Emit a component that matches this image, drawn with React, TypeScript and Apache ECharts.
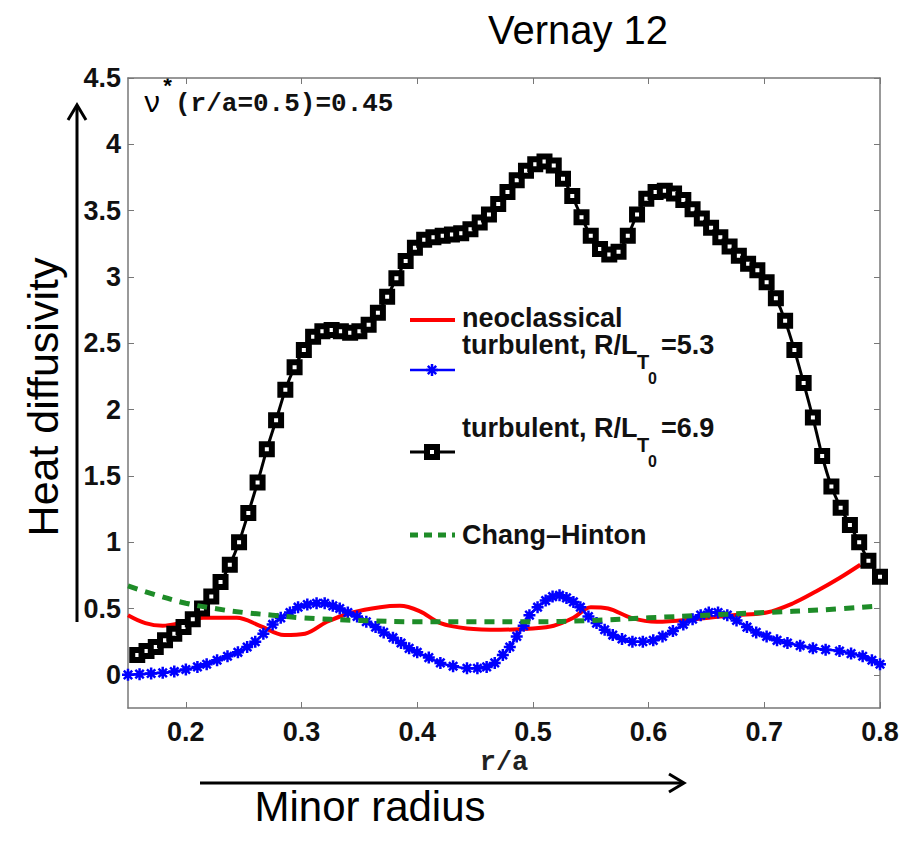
import React, { useEffect, useRef } from "react";
import * as echarts from "echarts";

// ---------- data ----------
const xTicks = [0.2, 0.3, 0.4, 0.5, 0.6, 0.7, 0.8];
const yTicks = [0, 0.5, 1, 1.5, 2, 2.5, 3, 3.5, 4, 4.5];

// neoclassical (red)
const neoX = [0.150, 0.165, 0.180, 0.195, 0.215, 0.244, 0.264, 0.285, 0.303, 0.322, 0.344, 0.368, 0.385, 0.402, 0.420, 0.443, 0.472, 0.500, 0.518, 0.535, 0.550, 0.565, 0.585, 0.607, 0.640, 0.673, 0.702, 0.725, 0.745, 0.765, 0.783];
const neoY = [0.45, 0.39, 0.37, 0.39, 0.43, 0.43, 0.37, 0.30, 0.31, 0.40, 0.47, 0.51, 0.52, 0.48, 0.39, 0.35, 0.34, 0.35, 0.37, 0.43, 0.51, 0.50, 0.43, 0.40, 0.42, 0.45, 0.47, 0.54, 0.63, 0.73, 0.83];

// turbulent, R/LT0 = 5.3 (blue, stars)
const t53X = [0.150, 0.160, 0.170, 0.180, 0.190, 0.200, 0.210, 0.218, 0.227, 0.236, 0.245, 0.253, 0.260, 0.267, 0.275, 0.282, 0.290, 0.297, 0.305, 0.313, 0.320, 0.327, 0.333, 0.340, 0.348, 0.356, 0.364, 0.371, 0.379, 0.386, 0.393, 0.400, 0.410, 0.420, 0.431, 0.443, 0.452, 0.460, 0.467, 0.474, 0.480, 0.486, 0.492, 0.497, 0.504, 0.511, 0.517, 0.523, 0.529, 0.535, 0.541, 0.548, 0.555, 0.562, 0.569, 0.577, 0.586, 0.595, 0.604, 0.612, 0.621, 0.630, 0.638, 0.645, 0.652, 0.660, 0.668, 0.676, 0.685, 0.693, 0.702, 0.711, 0.720, 0.731, 0.742, 0.753, 0.765, 0.775, 0.785, 0.793, 0.800];
const t53Y = [0.00, 0.005, 0.01, 0.015, 0.025, 0.04, 0.06, 0.08, 0.11, 0.14, 0.17, 0.21, 0.25, 0.31, 0.38, 0.43, 0.47, 0.51, 0.53, 0.54, 0.54, 0.52, 0.50, 0.47, 0.44, 0.40, 0.36, 0.32, 0.28, 0.24, 0.20, 0.17, 0.13, 0.09, 0.065, 0.05, 0.05, 0.06, 0.09, 0.15, 0.21, 0.29, 0.37, 0.45, 0.51, 0.56, 0.59, 0.60, 0.58, 0.55, 0.51, 0.44, 0.39, 0.34, 0.30, 0.27, 0.25, 0.25, 0.26, 0.29, 0.33, 0.38, 0.42, 0.45, 0.47, 0.47, 0.45, 0.41, 0.36, 0.32, 0.29, 0.26, 0.24, 0.22, 0.20, 0.19, 0.18, 0.16, 0.14, 0.11, 0.08];

// turbulent, R/LT0 = 6.9 (black, squares)
const t69X = [0.158, 0.166, 0.174, 0.182, 0.190, 0.198, 0.206, 0.214, 0.222, 0.230, 0.238, 0.246, 0.254, 0.262, 0.270, 0.278, 0.286, 0.294, 0.302, 0.310, 0.318, 0.326, 0.334, 0.342, 0.350, 0.358, 0.366, 0.374, 0.382, 0.390, 0.398, 0.406, 0.414, 0.422, 0.430, 0.438, 0.446, 0.454, 0.462, 0.470, 0.478, 0.486, 0.494, 0.502, 0.510, 0.518, 0.526, 0.534, 0.542, 0.550, 0.558, 0.566, 0.574, 0.582, 0.590, 0.598, 0.606, 0.614, 0.622, 0.630, 0.638, 0.646, 0.654, 0.662, 0.670, 0.678, 0.686, 0.694, 0.702, 0.710, 0.718, 0.726, 0.734, 0.742, 0.750, 0.758, 0.766, 0.774, 0.782, 0.790, 0.800];
const t69Y = [0.15, 0.18, 0.21, 0.26, 0.31, 0.36, 0.42, 0.50, 0.59, 0.70, 0.83, 1.00, 1.22, 1.45, 1.70, 1.92, 2.15, 2.32, 2.45, 2.55, 2.59, 2.60, 2.59, 2.58, 2.59, 2.64, 2.73, 2.85, 2.99, 3.12, 3.22, 3.28, 3.30, 3.31, 3.32, 3.33, 3.36, 3.41, 3.47, 3.55, 3.64, 3.73, 3.80, 3.85, 3.87, 3.84, 3.74, 3.61, 3.45, 3.31, 3.21, 3.17, 3.19, 3.31, 3.47, 3.59, 3.64, 3.65, 3.63, 3.58, 3.51, 3.44, 3.37, 3.30, 3.23, 3.16, 3.10, 3.05, 2.96, 2.84, 2.67, 2.45, 2.20, 1.94, 1.65, 1.42, 1.26, 1.13, 1.00, 0.86, 0.74];

// Chang-Hinton (green dashed)
const chX = [0.150, 0.175, 0.200, 0.225, 0.250, 0.275, 0.300, 0.350, 0.400, 0.450, 0.500, 0.550, 0.600, 0.650, 0.700, 0.750, 0.800];
const chY = [0.67, 0.60, 0.54, 0.50, 0.47, 0.45, 0.43, 0.41, 0.40, 0.40, 0.40, 0.41, 0.43, 0.45, 0.47, 0.49, 0.52];

const zip = (xs: number[], ys: number[]) => xs.map((x, i) => [x, ys[i]]);

const AXIS_COLOR = "#777";
const SANS = "Liberation Sans, Arial, Helvetica, sans-serif";
const MONO = "Liberation Mono, Courier New, monospace";
const RED = "#ff0000";
const BLUE = "#0000ff";
const GREEN = "#1e8c28";
const STAR = "path://M5,0L5,10M0,5L10,5M1.5,1.5L8.5,8.5M8.5,1.5L1.5,8.5";

function starLines(cx: number, cy: number, r: number, color: string) {
  const d = r * 0.7;
  return [
    [cx, cy - r, cx, cy + r],
    [cx - r, cy, cx + r, cy],
    [cx - d, cy - d, cx + d, cy + d],
    [cx + d, cy - d, cx - d, cy + d],
  ].map((s) => ({
    type: "line",
    shape: { x1: s[0], y1: s[1], x2: s[2], y2: s[3] },
    style: { stroke: color, lineWidth: 2.5 },
    z: 100,
  }));
}

export default function App() {
  const ref = useRef<HTMLDivElement>(null);
  useEffect(() => {
    if (!ref.current) return;
    const chart = echarts.init(ref.current, null, { renderer: "svg" });
    const tickLabel = {
      fontFamily: SANS,
      fontWeight: "bold",
      fontSize: 27,
      color: "#111",
    };
    const legendText = (text: string, x: number, y: number, size = 27) => ({
      type: "text",
      x,
      y,
      z: 100,
      style: { text, fontFamily: SANS, fontWeight: "bold", fontSize: size, fill: "#111", align: "left", verticalAlign: "middle" },
    });
    const option: any = {
      animation: false,
      backgroundColor: "#ffffff",
      grid: { left: 128, top: 78, width: 752, height: 630, containLabel: false },
      xAxis: [
        {
          type: "value",
          min: 0.15,
          max: 0.8,
          position: "bottom",
          axisLine: { show: true, onZero: false, lineStyle: { color: AXIS_COLOR, width: 1.5 } },
          axisTick: { show: true, inside: true, length: 6, customValues: xTicks, lineStyle: { color: AXIS_COLOR } },
          axisLabel: { ...tickLabel, customValues: xTicks, margin: 10, formatter: (v: number) => v.toFixed(1) },
          splitLine: { show: false },
          name: "r/a",
          nameLocation: "middle",
          nameGap: 36,
          nameTextStyle: { fontFamily: MONO, fontWeight: "bold", fontSize: 27, color: "#222" },
        },
        {
          type: "value",
          min: 0.15,
          max: 0.8,
          position: "top",
          axisLine: { show: true, onZero: false, lineStyle: { color: AXIS_COLOR, width: 1.5 } },
          axisTick: { show: true, inside: true, length: 6, customValues: xTicks, lineStyle: { color: AXIS_COLOR } },
          axisLabel: { show: false },
          splitLine: { show: false },
        },
      ],
      yAxis: [
        {
          type: "value",
          min: -0.25,
          max: 4.5,
          position: "left",
          axisLine: { show: true, onZero: false, lineStyle: { color: AXIS_COLOR, width: 1.5 } },
          axisTick: { show: true, inside: true, length: 6, customValues: yTicks, lineStyle: { color: AXIS_COLOR } },
          axisLabel: { ...tickLabel, customValues: yTicks, margin: 7, formatter: (v: number) => String(Math.round(v * 10) / 10) },
          splitLine: { show: false },
        },
        {
          type: "value",
          min: -0.25,
          max: 4.5,
          position: "right",
          axisLine: { show: true, onZero: false, lineStyle: { color: AXIS_COLOR, width: 1.5 } },
          axisTick: { show: true, inside: true, length: 6, customValues: yTicks, lineStyle: { color: AXIS_COLOR } },
          axisLabel: { show: false },
          splitLine: { show: false },
        },
      ],
      series: [
        {
          name: "neoclassical",
          type: "line",
          data: zip(neoX, neoY),
          smooth: 0.35,
          showSymbol: false,
          lineStyle: { color: RED, width: 4 },
          itemStyle: { color: RED },
          z: 2,
        },
        {
          name: "turbulent, R/LT0 =5.3",
          type: "line",
          data: zip(t53X, t53Y),
          smooth: 0.3,
          symbol: STAR,
          symbolSize: 12,
          lineStyle: { color: BLUE, width: 2.5 },
          itemStyle: { color: BLUE, borderColor: BLUE, borderWidth: 2.5 },
          z: 3,
        },
        {
          name: "turbulent, R/LT0 =6.9",
          type: "line",
          data: zip(t69X, t69Y),
          smooth: 0.2,
          symbol: "rect",
          symbolSize: 10,
          lineStyle: { color: "#000", width: 3 },
          itemStyle: { color: "#ffffff", borderColor: "#000", borderWidth: 6 },
          z: 4,
        },
        {
          name: "Chang-Hinton",
          type: "line",
          data: zip(chX, chY),
          smooth: 0.4,
          showSymbol: false,
          lineStyle: { color: GREEN, width: 5, type: [10, 8] },
          itemStyle: { color: GREEN },
          z: 5,
        },
      ],
      graphic: [
        {
          type: "text",
          x: 578,
          y: 30,
          style: { text: "Vernay 12", fontFamily: SANS, fontSize: 40, fill: "#000", align: "center", verticalAlign: "middle" },
        },
        {
          type: "text",
          x: 43,
          y: 397,
          rotation: Math.PI / 2,
          style: { text: "Heat diffusivity", fontFamily: SANS, fontSize: 43, fill: "#000", align: "center", verticalAlign: "middle" },
        },
        { type: "line", shape: { x1: 77, y1: 622, x2: 77, y2: 106 }, style: { stroke: "#000", lineWidth: 3 } },
        { type: "polyline", shape: { points: [[68, 120], [77, 105], [86, 120]] }, style: { stroke: "#000", lineWidth: 3, fill: null } },
        { type: "line", shape: { x1: 200, y1: 783, x2: 683, y2: 783 }, style: { stroke: "#000", lineWidth: 3 } },
        { type: "polyline", shape: { points: [[669, 774], [684, 783], [669, 792]] }, style: { stroke: "#000", lineWidth: 3, fill: null } },
        {
          type: "text",
          x: 370,
          y: 806,
          style: { text: "Minor radius", fontFamily: SANS, fontSize: 42, fill: "#000", align: "center", verticalAlign: "middle" },
        },
        // annotation nu*(r/a=0.5)=0.45
        { type: "text", x: 143, y: 104, style: { text: "ν", fontFamily: MONO, fontSize: 30, fill: "#000", align: "left", verticalAlign: "middle" } },
        { type: "text", x: 161, y: 88, style: { text: "*", fontFamily: MONO, fontWeight: "bold", fontSize: 22, fill: "#000", align: "left", verticalAlign: "middle" } },
        { type: "text", x: 175, y: 104, style: { text: "(r/a=0.5)=0.45", fontFamily: MONO, fontWeight: "bold", fontSize: 26, fill: "#111", align: "left", verticalAlign: "middle" } },
        // legend
        { type: "line", shape: { x1: 410, y1: 320, x2: 455, y2: 320 }, style: { stroke: RED, lineWidth: 4 }, z: 100 },
        legendText("neoclassical", 462, 318),
        legendText("turbulent, R/L", 462, 345),
        legendText("T", 637, 362, 20),
        legendText("0", 648, 378, 16),
        legendText("=5.3", 661, 345),
        { type: "line", shape: { x1: 410, y1: 370, x2: 455, y2: 370 }, style: { stroke: BLUE, lineWidth: 2.5 }, z: 100 },
        ...starLines(432, 370, 6, BLUE),
        legendText("turbulent, R/L", 462, 428),
        legendText("T", 637, 445, 20),
        legendText("0", 648, 461, 16),
        legendText("=6.9", 661, 428),
        { type: "line", shape: { x1: 410, y1: 452, x2: 455, y2: 452 }, style: { stroke: "#000", lineWidth: 3 }, z: 100 },
        { type: "rect", shape: { x: 427, y: 447, width: 10, height: 10 }, style: { fill: "#fff", stroke: "#000", lineWidth: 6 }, z: 101 },
        { type: "line", shape: { x1: 410, y1: 535, x2: 455, y2: 535 }, style: { stroke: GREEN, lineWidth: 5, lineDash: [8, 6] }, z: 100 },
        legendText("Chang\u2013Hinton", 462, 535),
      ],
    };
    chart.setOption(option);
    return () => chart.dispose();
  }, []);
  return (
    <div
      ref={ref}
      style={{ position: "absolute", left: 0, top: 0, width: 915, height: 842, background: "#fff" }}
    />
  );
}
